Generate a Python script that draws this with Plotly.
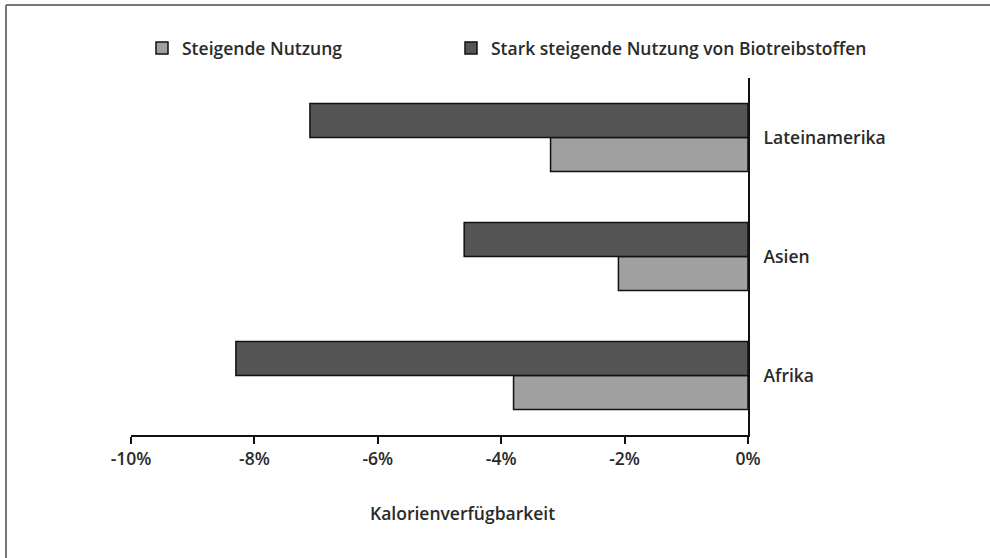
import plotly.graph_objects as go

categories = ["Afrika", "Asien", "Lateinamerika"]
series_names = ["Steigende Nutzung", "Stark steigende Nutzung von Biotreibstoffen"]
steigende = [-3.8, -2.1, -3.2]
stark_steigende = [-8.3, -4.6, -7.1]
tick_values = [-10, -8, -6, -4, -2, 0]
tick_labels = ["-10%", "-8%", "-6%", "-4%", "-2%", "0%"]
x_title = "Kalorienverfügbarkeit"

FONT = "Open Sans, Lato, DejaVu Sans Condensed, sans-serif"
TXT = "#2a2a2a"
FS = 17.5
WT = 600

W, H = 990, 558
L, R, T, B = 131, 242, 78, 123
pw = W - L - R
ph = H - T - B


def px_x(p):
    return (p - L) / pw


def px_y(p):
    return (H - B - p) / ph


fig = go.Figure()
fig.add_trace(go.Bar(
    y=categories, x=steigende, name=series_names[0], orientation="h",
    marker=dict(color="#a0a0a0", line=dict(color="#111111", width=1.5)),
    legend="legend",
))
fig.add_trace(go.Bar(
    y=categories, x=stark_steigende, name=series_names[1], orientation="h",
    marker=dict(color="#555555", line=dict(color="#111111", width=1.5)),
    legend="legend2",
))

legend_common = dict(
    orientation="h", xanchor="left", yanchor="middle",
    font=dict(family=FONT, size=FS, color=TXT, weight=WT),
    bgcolor="rgba(0,0,0,0)", borderwidth=0,
)

fig.update_layout(
    width=W, height=H,
    margin=dict(l=L, r=R, t=T, b=B, autoexpand=False),
    paper_bgcolor="white", plot_bgcolor="white",
    barmode="group", bargap=0.43, bargroupgap=0,
    font=dict(family=FONT, size=FS, color=TXT, weight=WT),
    showlegend=True,
    legend=dict(x=px_x(142), y=px_y(48), **legend_common),
    legend2=dict(x=px_x(451), y=px_y(48), **legend_common),
    xaxis=dict(
        range=[-10, 0], tickvals=tick_values, ticktext=tick_labels,
        showline=True, linecolor="#111111", linewidth=2,
        ticks="outside", ticklen=7, tickwidth=2, tickcolor="#111111",
        showgrid=False, zeroline=False, fixedrange=True,
        tickfont=dict(family=FONT, size=FS, color=TXT, weight=WT),
    ),
    yaxis=dict(
        side="right", range=[-0.5, 2.5], showline=True, linecolor="#111111", linewidth=2,
        ticks="", showgrid=False, zeroline=False, fixedrange=True,
        tickfont=dict(family=FONT, size=FS, color=TXT, weight=WT), ticklabelstandoff=10,
    ),
    annotations=[dict(
        text=x_title, xref="paper", yref="paper",
        x=px_x(462), y=px_y(513), xanchor="center", yanchor="middle",
        showarrow=False, font=dict(family=FONT, size=FS, color=TXT, weight=WT),
    )],
    shapes=[
        dict(type="line", xref="paper", yref="paper",
             x0=px_x(6), x1=px_x(W + 5), y0=px_y(5), y1=px_y(5),
             line=dict(color="#777777", width=2)),
        dict(type="line", xref="paper", yref="paper",
             x0=px_x(6), x1=px_x(6), y0=px_y(5), y1=px_y(H + 5),
             line=dict(color="#777777", width=2)),
    ],
)

fig.write_html(
    "out.html",
    config={"displayModeBar": False},
    post_script="document.body.style.margin='0';",
)
